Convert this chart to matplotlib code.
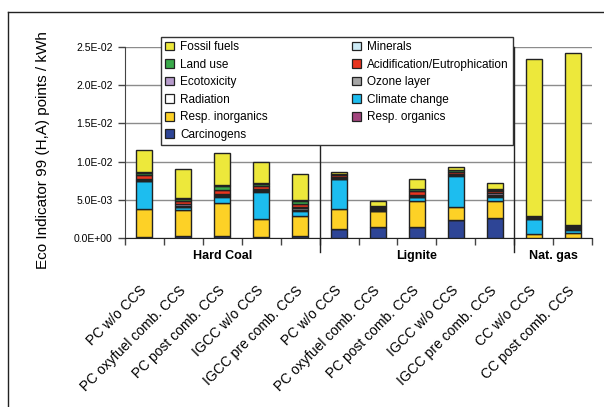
import numpy as np
import matplotlib
matplotlib.use("Agg")
import matplotlib.pyplot as plt
from matplotlib.patches import Patch
from matplotlib.lines import Line2D
import matplotlib.transforms as mtransforms

plt.rcParams['font.family'] = ['Liberation Sans', 'DejaVu Sans']

# Power plant configurations
plants = ["PC w/o CCS", "PC oxyfuel comb. CCS", "PC post comb. CCS", "IGCC w/o CCS",
          "IGCC pre comb. CCS",
          "PC w/o CCS", "PC oxyfuel comb. CCS", "PC post comb. CCS", "IGCC w/o CCS",
          "IGCC pre comb. CCS",
          "CC w/o CCS", "CC post comb. CCS"]
groups = ["Hard Coal", "Lignite", "Nat. gas"]
group_sizes = [5, 5, 2]

# Impact category scores, in 1E-03 Eco-indicator points per kWh (stacked bottom to top)
carcinogens     = [0.20, 0.30, 0.30, 0.15, 0.30, 1.25, 1.50, 1.50, 2.35, 2.60, 0.05, 0.05]
resp_organics   = [0.02, 0.02, 0.05, 0.02, 0.02, 0.02, 0.02, 0.02, 0.02, 0.02, 0.01, 0.01]
resp_inorganics = [3.60, 3.40, 4.25, 2.30, 2.63, 2.53, 1.98, 3.33, 1.73, 2.28, 0.54, 0.69]
climate_change  = [3.60, 0.30, 0.75, 3.60, 0.65, 3.90, 0.10, 0.50, 4.00, 0.50, 1.90, 0.35]
radiation       = [0.10, 0.10, 0.15, 0.10, 0.15, 0.10, 0.10, 0.10, 0.10, 0.15, 0.05, 0.10]
ozone_layer     = [0.05, 0.10, 0.10, 0.10, 0.15, 0.10, 0.10, 0.10, 0.10, 0.15, 0.10, 0.10]
ecotoxicity     = [0.15, 0.20, 0.15, 0.10, 0.20, 0.10, 0.10, 0.15, 0.10, 0.20, 0.10, 0.15]
acidification   = [0.50, 0.40, 0.56, 0.40, 0.35, 0.25, 0.15, 0.50, 0.30, 0.30, 0.10, 0.15]
land_use        = [0.30, 0.30, 0.50, 0.30, 0.40, 0.10, 0.05, 0.20, 0.15, 0.15, 0.05, 0.05]
minerals        = [0.10, 0.10, 0.10, 0.10, 0.10, 0.05, 0.05, 0.05, 0.10, 0.05, 0.02, 0.05]
fossil_fuels    = [2.90, 3.80, 4.20, 2.75, 3.40, 0.25, 0.70, 1.30, 0.40, 0.80, 20.45, 22.45]

series = [
    ("Carcinogens", carcinogens, "#2E4596"),
    ("Resp. organics", resp_organics, "#A2457E"),
    ("Resp. inorganics", resp_inorganics, "#FDD126"),
    ("Climate change", climate_change, "#1DBDEF"),
    ("Radiation", radiation, "#FFFFFF"),
    ("Ozone layer", ozone_layer, "#A6A6A6"),
    ("Ecotoxicity", ecotoxicity, "#B69BCB"),
    ("Acidification/Eutrophication", acidification, "#E8341E"),
    ("Land use", land_use, "#39A94A"),
    ("Minerals", minerals, "#CDEBF6"),
    ("Fossil fuels", fossil_fuels, "#EDE83B"),
]

W, H = 604, 407
fig = plt.figure(figsize=(W / 100, H / 100), dpi=100)
ax = fig.add_axes([125 / W, 1 - 238.3 / H, (592 - 125) / W, (238.3 - 46.7) / H])

x = np.arange(len(plants))
bottom = np.zeros(len(plants))
handles = {}
for name, vals, color in series:
    v = np.array(vals) * 1e-3
    ax.bar(x, v, width=0.41, bottom=bottom, color=color, edgecolor="#222222",
           linewidth=1.0, zorder=3)
    bottom += v
    handles[name] = Patch(facecolor=color, edgecolor="#222222", linewidth=0.9)

ax.set_xlim(-0.5, len(plants) - 0.5)
ax.set_ylim(0, 0.025)
yt = np.arange(0, 0.0251, 0.005)
ax.set_yticks(yt)
ax.set_yticklabels(["%.1E" % t for t in yt], fontsize=7.5)
ax.yaxis.grid(True, color="#8C8C8C", linewidth=1.0, zorder=0)
ax.tick_params(axis="y", direction="out", length=5, width=1, color="#444444", pad=4)

# category boundaries as x ticks
ax.set_xticks(np.arange(-0.5, len(plants), 1.0))
ax.set_xticklabels([])
ax.tick_params(axis="x", direction="out", length=5, width=1, color="#444444")

for s in ["top", "right"]:
    ax.spines[s].set_visible(False)
ax.spines["left"].set_color("#444444")
ax.spines["bottom"].set_color("#222222")

trans = mtransforms.blended_transform_factory(ax.transData, ax.transAxes)

# plant labels
for xi, lab in zip(x, plants):
    ax.text(xi, -0.262, lab, transform=trans, rotation=45, rotation_mode="anchor",
            ha="right", va="center", fontsize=10)

# group separators and group names
start = 0
for g, n in zip(groups, group_sizes):
    end = start + n
    ax.text((start + end - 1) / 2, -0.092, g, transform=trans, ha="center",
            va="center", fontsize=9, fontweight="bold")
    if end < len(plants):
        ax.plot([end - 0.5, end - 0.5], [-0.073, 1.0], transform=trans, color="#222222",
                linewidth=1.0, clip_on=False, zorder=4)
    start = end

fig.text(43 / W, 1 - 150 / H, "Eco Indicator 99 (H,A) points / kWh", rotation=90,
         ha="center", va="center", fontsize=11)

# outer frame
fig.add_artist(Line2D([8 / W, 8 / W], [-0.01, 1 - 12 / H], transform=fig.transFigure,
                      color="#222222", linewidth=1.0))
fig.add_artist(Line2D([8 / W, 1.01], [1 - 12 / H, 1 - 12 / H], transform=fig.transFigure,
                      color="#222222", linewidth=1.0))

order = ["Fossil fuels", "Land use", "Ecotoxicity", "Radiation", "Resp. inorganics",
         "Carcinogens", "Minerals", "Acidification/Eutrophication", "Ozone layer",
         "Climate change", "Resp. organics"]
leg = fig.legend([handles[k] for k in order], order, ncol=2, loc="upper left",
                 bbox_to_anchor=(161 / W, 1 - 37 / H, (513 - 161) / W, 0.0),
                 mode="expand", borderaxespad=0, fontsize=8.5, frameon=True,
                 fancybox=False, handlelength=0.75, handleheight=0.75,
                 handletextpad=0.5, labelspacing=0.47, borderpad=0.35)
leg.get_frame().set_edgecolor("#333333")
leg.get_frame().set_linewidth(1.0)
leg.get_frame().set_facecolor("white")
leg.get_frame().set_alpha(1.0)

fig.savefig("out.png", dpi=100)
